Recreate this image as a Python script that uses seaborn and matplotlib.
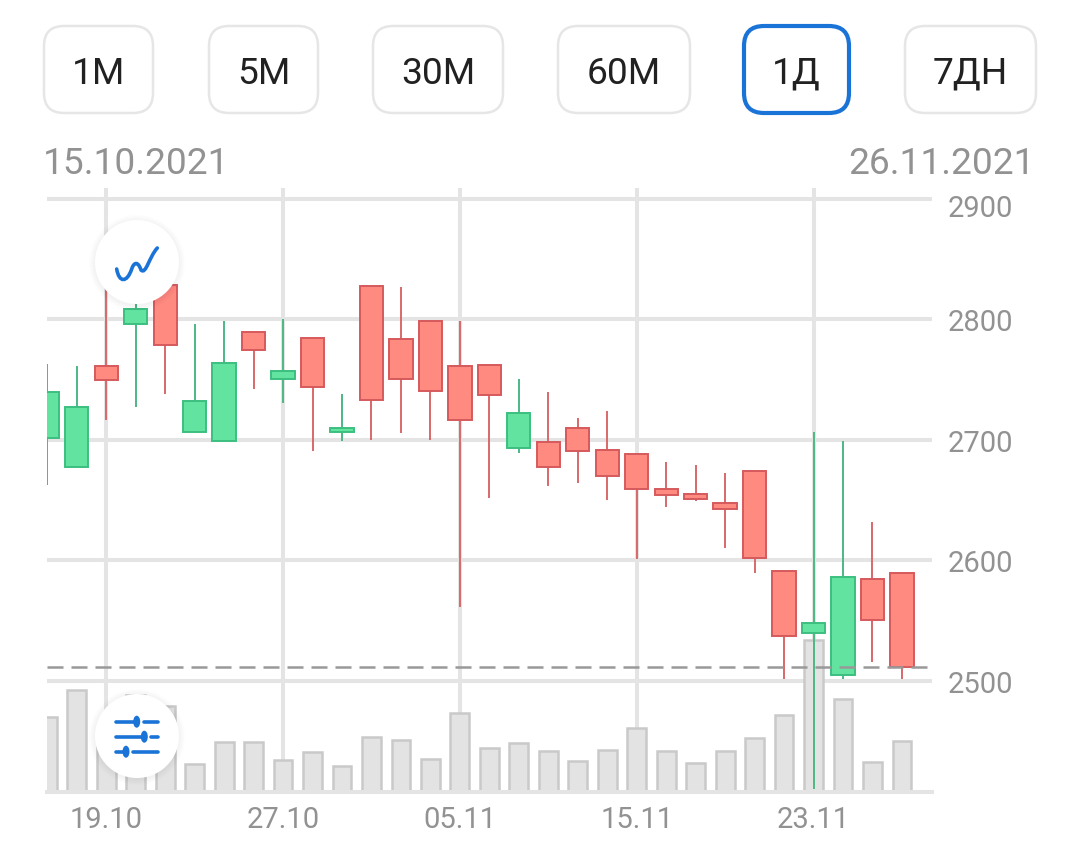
import numpy as np
import seaborn as sns
import matplotlib.pyplot as plt
from matplotlib.patches import FancyBboxPatch, Circle, Ellipse, PathPatch
from matplotlib.path import Path
from matplotlib.transforms import ScaledTranslation

# Daily candles
opens = [2702, 2678, 2761, 2796, 2829, 2707, 2699, 2790, 2751, 2785,
         2707, 2828, 2784, 2799, 2761, 2762, 2693, 2698, 2710, 2692,
         2688, 2659, 2655, 2648, 2674, 2591, 2540, 2505, 2585, 2590]
closes = [2740, 2727, 2750, 2809, 2779, 2732, 2764, 2775, 2757, 2744,
          2710, 2733, 2751, 2741, 2717, 2737, 2722, 2678, 2691, 2670,
          2659, 2654, 2651, 2643, 2602, 2537, 2548, 2586, 2551, 2512]
highs = [2763, 2761, 2829, 2816, 2829, 2796, 2799, 2790, 2800, 2785,
         2738, 2828, 2827, 2799, 2799, 2762, 2751, 2740, 2718, 2724,
         2688, 2682, 2679, 2673, 2674, 2591, 2707, 2699, 2632, 2590]
lows = [2663, 2678, 2717, 2727, 2738, 2707, 2699, 2742, 2731, 2691,
        2699, 2700, 2706, 2700, 2561, 2652, 2689, 2662, 2664, 2650,
        2601, 2644, 2649, 2610, 2590, 2502, 2410, 2502, 2516, 2502]
volumes = [75, 102, 62, 97, 86, 28, 50, 50, 32, 40,
           26, 55, 52, 33, 79, 44, 49, 41, 31, 42,
           64, 41, 29, 41, 54, 77, 152, 93, 30, 51]
last_price = 2511.6

price_ticks = [2500, 2600, 2700, 2800, 2900]
date_ticks = [2, 8, 14, 20, 26]
date_labels = ["19.10", "27.10", "05.11", "15.11", "23.11"]
periods = ["1М", "5М", "30М", "60М", "1Д", "7ДН"]
active_period = "1Д"
start_date = "15.10.2021"
end_date = "26.11.2021"

GRID = "#e4e4e4"
GREY_TEXT = "#929292"
BLUE = "#1a73d6"

sns.set_style("white")
plt.rcParams["font.family"] = ["Roboto", "DejaVu Sans"]

W, H = 1080, 845
fig = plt.figure(figsize=(W / 100, H / 100), dpi=100)
ax = fig.add_axes([47 / W, 1 - 793 / H, (932 - 47) / W, (793 - 189) / H])
ax_vol = ax.twinx()
ax_candle = ax.twinx()

days = np.arange(len(opens))
opens = np.array(opens)
closes = np.array(closes)
is_up = closes > opens
body_low = np.minimum(opens, closes)
body_height = np.abs(closes - opens)

# Grid and ticks on the base axes
ax.yaxis.tick_right()
ax.set_yticks(price_ticks)
ax.set_xticks(date_ticks)
ax.set_xticklabels(date_labels)
ax.grid(True, color=GRID, linewidth=2.9)
ax.set_axisbelow(True)
ax.tick_params(axis="y", length=0, pad=11, labelsize=21, labelcolor=GREY_TEXT)
ax.tick_params(axis="x", length=0, pad=9.5, labelsize=21, labelcolor=GREY_TEXT)
sns.despine(ax=ax, left=True, right=True, top=True, bottom=True)

# Volume bars
sns.barplot(x=days, y=volumes, ax=ax_vol, native_scale=True, color="#e3e3e3",
            saturation=1, edgecolor="#c9c9c9", linewidth=1.8, width=0.64, errorbar=None)
ax_vol.set_ylim(0, 604)
ax_vol.set_yticks([])
ax_vol.set_ylabel("")
sns.despine(ax=ax_vol, left=True, right=True, top=True)
ax_vol.spines["bottom"].set_color(GRID)
ax_vol.spines["bottom"].set_linewidth(2.9)
ax_vol.tick_params(length=0, labelbottom=False)

# Candles
for mask, fill, edge, wick in [(is_up, "#62e3a0", "#3cbf80", "#4db884"),
                               (~is_up, "#ff8a80", "#d65a5c", "#d8686a")]:
    ax_candle.vlines(days[mask], np.array(lows)[mask], np.array(highs)[mask],
                     color=wick, linewidth=1.4, zorder=1)
    sns.barplot(x=days[mask], y=body_height[mask], bottom=body_low[mask], ax=ax_candle,
                native_scale=True, color=fill, saturation=1, edgecolor=edge,
                linewidth=1.4, width=0.79, errorbar=None, zorder=2)
ax_candle.hlines(last_price, -0.01, 29.85, color="#999999", linewidth=1.8,
                 linestyles=(0, (6.4, 3.2)), zorder=3)
ax_candle.set_yticks([])
ax_candle.set_ylabel("")
sns.despine(ax=ax_candle, left=True, right=True, top=True, bottom=True)
ax_candle.tick_params(length=0, labelbottom=False)

ylim = (2407.9, 2909.1)
ax.set_ylim(ylim)
ax_candle.set_ylim(ylim)
ax.set_xlim(-0.01, 30.02)

# top label sits a bit lower than its grid line
top_label = ax.get_yticklabels()[-1]
top_label.set_transform(top_label.get_transform()
                        + ScaledTranslation(0, -6 / 100, fig.dpi_scale_trans))

# Buttons, dates and the round icons, in pixels of the screenshot
ui = fig.add_axes([0, 0, 1, 1], zorder=5)
ui.set_xlim(0, W)
ui.set_ylim(H, 0)
ui.axis("off")

button_edges = [(44, 153), (209, 318), (373, 503), (558, 690), (744, 849), (905, 1036)]
for name, (x0, x1) in zip(periods, button_edges):
    active = name == active_period
    ui.add_patch(FancyBboxPatch((x0 + 20, 47), x1 - x0 - 40, 47,
                                boxstyle="round,pad=20,rounding_size=20",
                                facecolor="white", edgecolor=BLUE if active else "#e6e6e6",
                                linewidth=3 if active else 1.8))
    ui.text((x0 + x1) / 2, 70, name, ha="center", va="center_baseline",
            fontsize=26.7, color="#212121")

ui.text(43, 160, start_date, ha="left", va="center_baseline", fontsize=26.7, color=GREY_TEXT)
ui.text(1035, 160, end_date, ha="right", va="center_baseline", fontsize=26.7, color=GREY_TEXT)

for cy in (263, 737):
    for grow in range(6, 0, -1):
        ui.add_patch(Circle((137, cy + 1), 42 + grow, facecolor="black", alpha=0.008,
                            edgecolor="none"))
    ui.add_patch(Circle((137, cy), 42, facecolor="white", edgecolor="none"))

squiggle = Path([(116.7, 270), (119, 284), (127, 284), (131.7, 270),
                 (134, 263), (138, 262), (141, 271),
                 (146, 276), (149, 258), (157.3, 249)],
                [Path.MOVETO] + [Path.CURVE4] * 9)
ui.add_patch(PathPatch(squiggle, facecolor="none", edgecolor=BLUE, linewidth=2.6,
                       capstyle="round"))

slider_rows = [(722.7, 136.7, [(116, 136), (144, 157.7)]),
               (737.7, 144.3, [(116, 144), (151, 157.7)]),
               (752.7, 126, [(116, 126), (133, 157.7)])]
for y, knob, pieces in slider_rows:
    for x0, x1 in pieces:
        ui.plot([x0, x1], [y, y], color=BLUE, linewidth=2.6, solid_capstyle="round")
    ui.add_patch(Ellipse((knob, y), 7, 12, facecolor=BLUE, edgecolor="none"))

fig.savefig("out.png", dpi=100)
